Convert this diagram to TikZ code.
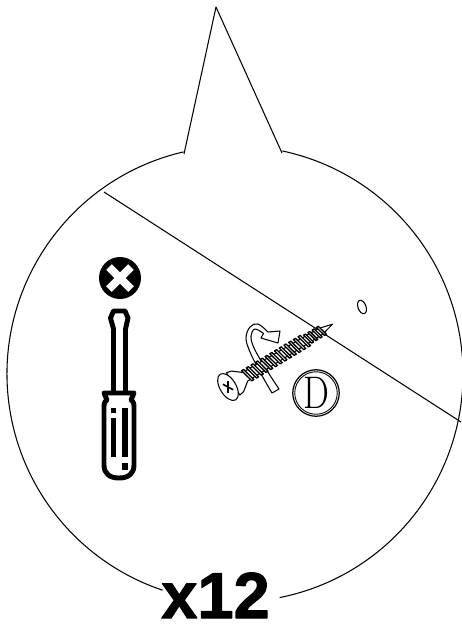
\documentclass[tikz,border=0pt]{standalone}
\usepackage{fontspec}
\newfontfamily\countfont[BoldFeatures={FakeBold=1.6}]{Liberation Sans}
\begin{document}
\begin{tikzpicture}[x=0.02cm,y=-0.02cm,line join=round,
  every node/.style={outer sep=0pt, inner sep=0pt},
  thinline/.style={draw=black,line width=0.6pt},
  thread/.style={draw=black,fill=white,line width=0.75pt},
  grip/.style={draw=black,line width=2.8pt,fill=white}]
\clip (0,0) rectangle (462,626);
\coordinate (arcleft) at (184,154);
\coordinate (arcright) at (282,153);
\coordinate (tip) at (216,7);
\coordinate (wallstart) at (104,192);
\coordinate (wallend) at (461,422);
% bubble
\draw[thinline] (arcleft) -- (tip) -- (arcright);
\draw[thinline] (235,374) ++(256.95:228) arc[start angle=256.95,end angle=108.5,radius=228];
\draw[thinline] (235,374) ++(78.7:228) arc[start angle=78.7,end angle=-78,radius=228];
\draw[thinline] (wallstart) -- (wallend);
\draw[thinline,rotate around={20:(362,307)}] (362,307) ellipse (4 and 7);
% cross mark
\node[circle,fill=black,minimum size=0.84cm] (mark) at (120,278) {};
\draw[white,line width=4.6pt] (109,267) -- (131,289);
\draw[white,line width=4.6pt] (131,267) -- (109,289);
% screwdriver
\draw[grip] (113.5,394) -- (113.5,329) -- (110.5,318) -- (113.5,311) -- (125,311) -- (128,318) -- (125.5,329) -- (125.5,394);
\draw[grip] (104,393) -- (134,393) -- (131,400) .. controls (134,402) and (134,404) .. (134,408) -- (134,465)
  .. controls (134,474) and (128,478) .. (119,478) .. controls (110,478) and (104,474) .. (104,465) -- (104,408)
  .. controls (104,404) and (104,402) .. (107,400) -- cycle;
\fill (111,408) rectangle (116,413);
\fill (111,418) rectangle (116,457);
\fill (122,408) rectangle (128,457);
\fill (122,463) rectangle (128,470);
% turning arrow
\draw[thinline,fill=white] plot[smooth,tension=0.6] coordinates {(279,389) (266,369) (254,348) (251,336) (255,329) (263.5,333.5)}
  -- (261,338) -- (278,343) -- (280,331) -- (268,332)
  -- plot[smooth,tension=0.6] coordinates {(268,332) (258,324) (250,327) (246,338) (250,352) (260,372) (272,393)} -- cycle;
% screw
\begin{scope}[shift={(228,387)},rotate=31]
\draw[thinline,fill=white] (6,-13) -- (11,-12) -- (20,-5) -- (108,-3.5) -- (122,0) -- (108,3.5) -- (20,5) -- (11,12) -- (6,13) -- cycle;
\foreach \u in {20,25.5,...,86}
  \draw[thread] (\u,-7) -- (\u+2.4,-7) -- (\u+6,7) -- (\u+3.6,7) -- cycle;
\foreach \u in {91.5,96.5,...,107}
  \draw[thread] (\u,-5.5) -- (\u+2.2,-5.5) -- (\u+5,5.5) -- (\u+2.8,5.5) -- cycle;
\draw[thinline,fill=white] (0,0) ellipse (8 and 15);
\draw[line width=0.9pt] (-3,-5) -- (3,5);
\draw[line width=0.9pt] (3,-5) -- (-3,5);
\end{scope}
% size letter
\node[circle,draw=black,line width=0.7pt,minimum size=0.93cm] (sizering) at (316,393) {};
\node[circle,draw=black,line width=0.5pt,minimum size=0.85cm] (sizeinner) at (316,393) {};
\node[font=\fontsize{26}{26}\selectfont] (sizeletter) at (sizering.center) {\scalebox{.8}[1]{D}};
% count
\node[font=\countfont\bfseries\fontsize{37}{37}\selectfont,anchor=base] (count) at (215.5,618) {x12};
\end{tikzpicture}
\end{document}
